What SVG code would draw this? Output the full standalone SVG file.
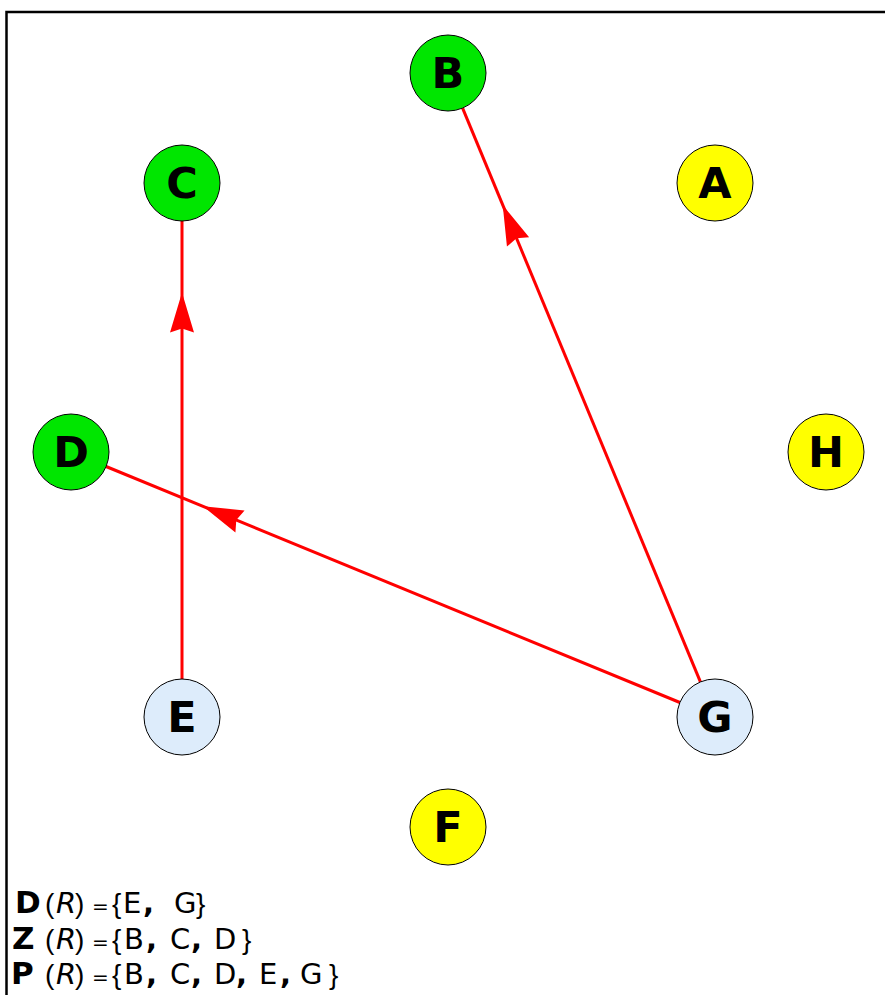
<svg xmlns="http://www.w3.org/2000/svg" xmlns:xlink="http://www.w3.org/1999/xlink" width="885" height="995" viewBox="0 0 885 995">
<style>
.frame{fill:none;stroke:#000;stroke-width:2.5}
.node circle{stroke:#000;stroke-width:1}
.green{fill:#00e600}
.yellow{fill:#ffff00}
.blue{fill:#ddecfb}
.node text{font-family:"DejaVu Sans",sans-serif;font-weight:bold;font-size:43px;text-anchor:middle;fill:#000}
.edge{stroke:#ff0000;stroke-width:3;fill:none}
.ah{fill:#ff0000}
.leg{font-family:"DejaVu Sans",sans-serif;font-size:29px;fill:#000}
.leg .b{font-weight:bold;font-size:31px}
.leg .c{font-weight:bold}
.leg .i{font-style:italic}
.leg .e{font-size:20px}
.leg .p{font-family:"Liberation Sans",sans-serif;font-size:28px}
</style>
<defs>
<path id="arrowhead" d="M0,0 L-40,-12 L-36,0 L-40,12 Z"/>
</defs>
<rect width="885" height="995" fill="#fff"/>
<path class="frame" d="M6.5,995 V12 H885"/>
<g id="connectors">
<line class="edge" x1="182" y1="679" x2="182" y2="221"/>
<use xlink:href="#arrowhead" class="ah" transform="translate(182,292.5) rotate(-90)"/>
<line class="edge" x1="700.4" y1="681.9" x2="462.6" y2="108.1"/>
<use xlink:href="#arrowhead" class="ah" transform="translate(502.7,205) rotate(-112.53)"/>
<line class="edge" x1="679.9" y1="702.5" x2="106.1" y2="466.5"/>
<use xlink:href="#arrowhead" class="ah" transform="translate(203,506.3) rotate(-157.63)"/>
</g>
<g id="node-A" class="node"><circle class="yellow" cx="715" cy="183" r="38"/><text x="715" y="198">A</text></g>
<g id="node-B" class="node"><circle class="green" cx="448" cy="73" r="38"/><text x="448" y="88">B</text></g>
<g id="node-C" class="node"><circle class="green" cx="182" cy="183" r="38"/><text x="182" y="198">C</text></g>
<g id="node-D" class="node"><circle class="green" cx="71" cy="452" r="38"/><text x="71" y="467">D</text></g>
<g id="node-H" class="node"><circle class="yellow" cx="826" cy="452" r="38"/><text x="826" y="467">H</text></g>
<g id="node-E" class="node"><circle class="blue" cx="182" cy="717" r="38"/><text x="182" y="732">E</text></g>
<g id="node-G" class="node"><circle class="blue" cx="715" cy="717" r="38"/><text x="715" y="732">G</text></g>
<g id="node-F" class="node"><circle class="yellow" cx="448" cy="827" r="38"/><text x="448" y="842">F</text></g>
<g id="legend" class="leg">
<text y="913"><tspan class="b" x="15">D</tspan><tspan class="p" x="45">(</tspan><tspan class="i" x="56">R</tspan><tspan class="p" x="75">)</tspan><tspan class="e" x="92">=</tspan><tspan class="p" x="112">{</tspan><tspan x="123">E</tspan><tspan class="c" x="143">,</tspan><tspan x="174">G</tspan><tspan class="p" x="196">}</tspan></text>
<text y="948.5"><tspan class="b" x="12">Z</tspan><tspan class="p" x="45">(</tspan><tspan class="i" x="56">R</tspan><tspan class="p" x="75">)</tspan><tspan class="e" x="92">=</tspan><tspan class="p" x="112">{</tspan><tspan x="124">B</tspan><tspan class="c" x="146">,</tspan><tspan x="170">C</tspan><tspan class="c" x="191">,</tspan><tspan x="214">D</tspan><tspan class="p" x="242">}</tspan></text>
<text y="984"><tspan class="b" x="11">P</tspan><tspan class="p" x="45">(</tspan><tspan class="i" x="56">R</tspan><tspan class="p" x="75">)</tspan><tspan class="e" x="92">=</tspan><tspan class="p" x="112">{</tspan><tspan x="124">B</tspan><tspan class="c" x="146">,</tspan><tspan x="170">C</tspan><tspan class="c" x="191">,</tspan><tspan x="214">D</tspan><tspan class="c" x="236">,</tspan><tspan x="259">E</tspan><tspan class="c" x="280">,</tspan><tspan x="300">G</tspan><tspan class="p" x="329">}</tspan></text>
</g>
</svg>
